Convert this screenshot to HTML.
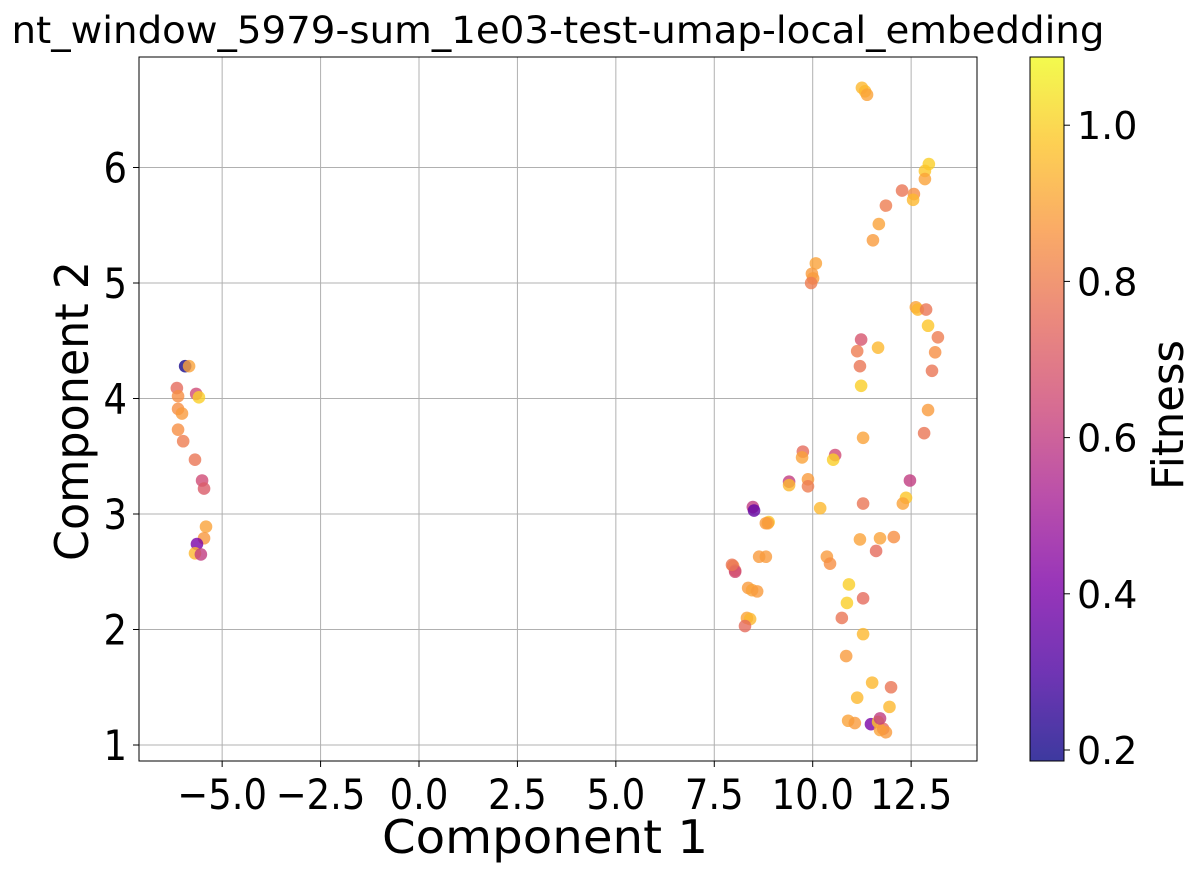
<!DOCTYPE html>
<html><head><meta charset="utf-8"><style>
body{margin:0;background:#fff;}
svg{display:block;font-family:"DejaVu Sans","Liberation Sans",sans-serif;}
</style></head><body>
<svg id="chart" width="1198" height="872" viewBox="0 0 1198 872">
<defs><linearGradient id="plasma" x1="0" y1="1" x2="0" y2="0"></linearGradient></defs>
<text x="558" y="43" font-size="37" text-anchor="middle" textLength="1093" lengthAdjust="spacingAndGlyphs" fill="#000">nt_window_5979-sum_1e03-test-umap-local_embedding</text>
<g id="grid"></g><g id="pts"></g><g id="axes"></g><g id="cbar"></g>
</svg>
<script>
const xs=[-5.94,-5.84,-6.15,-6.12,-5.66,-5.59,-6.12,-6.02,-6.12,-5.99,-5.69,-5.51,-5.46,-5.41,-5.46,-5.64,-5.69,-5.54,
11.25,11.33,11.38,12.95,12.85,12.85,12.27,12.57,12.55,11.86,11.68,11.53,10.08,9.98,10.01,9.96,12.62,12.67,12.88,12.93,13.18,11.23,11.13,13.11,11.66,11.20,13.03,11.23,12.93,11.28,12.83,9.75,9.73,10.57,10.52,9.88,9.88,9.40,9.40,12.47,12.37,12.29,11.28,10.19,8.48,8.51,8.88,8.86,8.81,11.20,11.71,12.06,7.98,8.03,8.03,7.95,8.64,8.81,10.36,10.44,11.61,8.36,8.46,8.59,10.92,11.28,10.87,8.33,8.41,8.28,10.74,11.28,10.85,11.51,11.13,11.99,11.95,10.90,11.07,11.48,11.66,11.79,11.71,11.86,11.71];
const ys=[4.28,4.28,4.09,4.02,4.04,4.01,3.91,3.87,3.73,3.63,3.47,3.29,3.22,2.89,2.79,2.74,2.66,2.65,
6.69,6.66,6.63,6.03,5.97,5.90,5.80,5.77,5.72,5.67,5.51,5.37,5.17,5.08,5.04,5.00,4.79,4.77,4.77,4.63,4.53,4.51,4.41,4.40,4.44,4.28,4.24,4.11,3.90,3.66,3.70,3.54,3.49,3.51,3.47,3.30,3.24,3.28,3.25,3.29,3.14,3.09,3.09,3.05,3.06,3.03,2.93,2.92,2.92,2.78,2.79,2.80,2.55,2.51,2.50,2.56,2.63,2.63,2.63,2.57,2.68,2.36,2.34,2.33,2.39,2.27,2.23,2.10,2.09,2.03,2.10,1.96,1.77,1.54,1.41,1.50,1.33,1.21,1.19,1.18,1.20,1.14,1.13,1.11,1.23];
const fitness=[0.2,0.9,0.75,0.85,0.65,1.0,0.85,0.88,0.85,0.8,0.78,0.65,0.7,0.9,0.87,0.4,0.95,0.6,
0.95,0.95,0.9,1.0,0.98,0.9,0.78,0.85,0.95,0.8,0.9,0.88,0.9,0.88,0.88,0.8,0.9,0.95,0.78,0.98,0.8,0.68,0.8,0.85,0.95,0.78,0.78,1.0,0.88,0.9,0.78,0.75,0.9,0.65,1.0,0.88,0.8,0.6,0.95,0.6,0.98,0.9,0.78,0.95,0.6,0.35,0.98,0.9,0.88,0.9,0.9,0.85,0.85,0.75,0.65,0.78,0.88,0.88,0.88,0.85,0.75,0.88,0.9,0.88,1.0,0.75,1.0,0.9,0.95,0.75,0.78,0.95,0.88,0.95,0.95,0.78,0.95,0.9,0.88,0.4,0.98,0.75,0.9,0.88,0.6];
const xTicks=[-5.0,-2.5,0.0,2.5,5.0,7.5,10.0,12.5];
const yTicks=[1,2,3,4,5,6];
const cTicks=[0.2,0.4,0.6,0.8,1.0];
const fMin=0.182, fMax=1.09;

const NS="http://www.w3.org/2000/svg";
const L=139,R=977,T=57,B=761;
const sx=v=>419+v*39.37;
const sy=v=>745-(v-1)*115.5;
const cy=v=>750-(v-0.2)*781;
const stops=["#0d0887","#4c02a1","#7e03a8","#a92395","#cc4778","#e56b5d","#f89441","#fdc328","#f0f921"];
function hex(h){return [1,3,5].map(i=>parseInt(h.substr(i,2),16));}
function plasma(t){t=Math.max(0,Math.min(1,t));const p=t*8,i=Math.min(7,Math.floor(p)),f=p-i;const a=hex(stops[i]),b=hex(stops[i+1]);return "rgb("+a.map((v,k)=>Math.round(v+(b[k]-v)*f)).join(",")+")";}
function mk(tag,attrs,parent){const e=document.createElementNS(NS,tag);for(const k in attrs)e.setAttribute(k,attrs[k]);parent.appendChild(e);return e;}
const grid=document.getElementById("grid"),pts=document.getElementById("pts"),axes=document.getElementById("axes"),cb=document.getElementById("cbar");
const fmt=v=>(v<0?"\u2212":"")+Math.abs(v).toFixed(1);
xTicks.forEach(v=>{const x=sx(v);
 const g=mk("line",{x1:x,x2:x,y1:T,y2:B,stroke:"#b0b0b0","stroke-width":1},grid);
 
 
 mk("line",{x1:x,x2:x,y1:B,y2:B+6,stroke:"#000","stroke-width":1},axes);
 const t=mk("text",{x:0,y:0,"font-size":42,"text-anchor":"middle",transform:"translate("+x+","+(B+48)+") scale(0.88,1)"},axes);t.textContent=fmt(v);
 
 
});
yTicks.forEach(v=>{const y=sy(v);
 const g=mk("line",{x1:L,x2:R,y1:y,y2:y,stroke:"#b0b0b0","stroke-width":1},grid);
 
 
 mk("line",{x1:L-6,x2:L,y1:y,y2:y,stroke:"#000","stroke-width":1},axes);
 const t=mk("text",{x:0,y:0,"font-size":42,"text-anchor":"end",transform:"translate("+(L-12)+","+(y+15)+") scale(0.88,1)"},axes);t.textContent=v;
 
 
});
xs.forEach((x,i)=>{const c=mk("circle",{cx:sx(x),cy:sy(ys[i]),r:6.3,fill:plasma((fitness[i]-fMin)/(fMax-fMin)),"fill-opacity":0.8},pts);
 
 
});
const fr=mk("rect",{x:L,y:T,width:R-L,height:B-T,fill:"none",stroke:"#000","stroke-width":1},axes);


let t=mk("text",{x:545,y:853,"font-size":46,"text-anchor":"middle",textLength:326,lengthAdjust:"spacingAndGlyphs"},axes);t.textContent="Component 1";


t=mk("text",{x:0,y:0,"font-size":46,"text-anchor":"middle",textLength:300,lengthAdjust:"spacingAndGlyphs",transform:"translate(88,411) rotate(-90)"},axes);t.textContent="Component 2";


const grad=document.getElementById("plasma");
stops.forEach((s,i)=>mk("stop",{offset:(i/8*100)+"%","stop-color":s},grad));
const cr=mk("rect",{x:1030,y:T,width:34,height:B-T,fill:"url(#plasma)","fill-opacity":0.8},cb);


mk("rect",{x:1030,y:T,width:34,height:B-T,fill:"none",stroke:"#000","stroke-width":1},cb);
cTicks.forEach(v=>{const y=cy(v);
 mk("line",{x1:1064,x2:1070,y1:y,y2:y,stroke:"#000"},cb);
 const tt=mk("text",{x:1077,y:y+14,"font-size":38},cb);tt.textContent=v.toFixed(1);
 
 
});
t=mk("text",{x:0,y:0,"font-size":44,"text-anchor":"middle",textLength:150,lengthAdjust:"spacingAndGlyphs",transform:"translate(1183,415) rotate(-90)"},cb);t.textContent="Fitness";


</script>
</body></html>
